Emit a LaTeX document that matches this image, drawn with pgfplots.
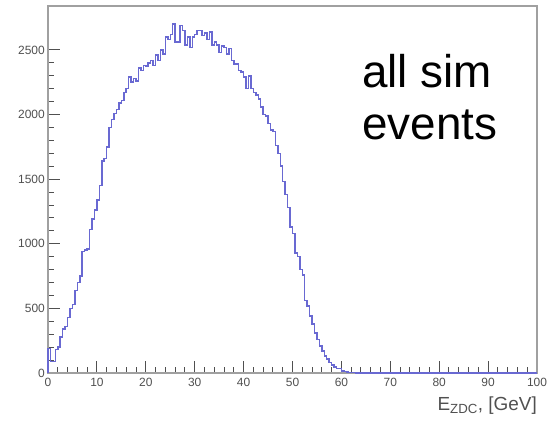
\documentclass[border=0pt]{standalone}
\usepackage{fontspec}
\setmainfont{Liberation Sans}
\usepackage{pgfplots}
\pgfplotsset{compat=1.18}
\usepackage{pgfplotstable}
\definecolor{histblue}{RGB}{105,105,210}
\definecolor{framegray}{RGB}{160,160,160}
\definecolor{ticklab}{RGB}{80,80,80}
\pgfplotstableread{
x y
0.0 0
0.0 190
0.5 90
1.0 90
1.5 180
2.0 200
2.5 280
3.0 340
3.5 360
4.0 430
4.5 500
5.0 530
5.5 640
6.0 700
6.5 750
7.0 940
7.5 950
8.0 960
8.5 1110
9.0 1190
9.5 1260
10.0 1340
10.5 1450
11.0 1640
11.5 1660
12.0 1750
12.5 1900
13.0 1960
13.5 2010
14.0 2040
14.5 2090
15.0 2110
15.5 2170
16.0 2200
16.5 2290
17.0 2250
17.5 2280
18.0 2260
18.5 2360
19.0 2340
19.5 2380
20.0 2370
20.5 2400
21.0 2420
21.5 2380
22.0 2460
22.5 2420
23.0 2500
23.5 2470
24.0 2600
24.5 2580
25.0 2620
25.5 2700
26.0 2560
26.5 2560
27.0 2690
27.5 2650
28.0 2540
28.5 2600
29.0 2520
29.5 2600
30.0 2620
30.5 2650
31.0 2650
31.5 2610
32.0 2630
32.5 2580
33.0 2640
33.5 2540
34.0 2560
34.5 2540
35.0 2480
35.5 2530
36.0 2520
36.5 2470
37.0 2510
37.5 2420
38.0 2390
38.5 2390
39.0 2340
39.5 2330
40.0 2290
40.5 2200
41.0 2300
41.5 2200
42.0 2170
42.5 2150
43.0 2120
43.5 2060
44.0 2000
44.5 1990
45.0 1930
45.5 1880
46.0 1870
46.5 1760
47.0 1700
47.5 1600
48.0 1480
48.5 1380
49.0 1280
49.5 1130
50.0 1080
50.5 930
51.0 900
51.5 800
52.0 760
52.5 560
53.0 520
53.5 440
54.0 380
54.5 310
55.0 260
55.5 210
56.0 170
56.5 130
57.0 110
57.5 80
58.0 60
58.5 45
59.0 35
59.5 35
60.0 15
60.5 10
61.0 8
61.5 5
62.0 3
62.5 2
63.0 1
63.5 1
64.0 0
100.0 0
}\histdata
\begin{document}
\begin{tikzpicture}
\path[use as bounding box] (-48bp,-48bp) rectangle (504bp,373bp);
\begin{axis}[
  at={(0,0)}, anchor=south west,
  scale only axis,
  width=489bp, height=367bp,
  xmin=0, xmax=100, ymin=0, ymax=2840,
  xtick={0,10,...,100}, ytick={0,500,...,2500},
  minor x tick num=4, minor y tick num=4,
  tick pos=left, tick align=inside,
  major tick length=12bp, minor tick length=6bp,
  every tick/.style={ticklab, line width=1bp},
  axis line style={framegray, line width=1.2bp},
  /pgf/number format/assume math mode=true,
  /pgf/number format/1000 sep={},
  tick label style={font=\fontsize{12}{13}\selectfont, text=ticklab},
  yticklabel style={anchor=east, inner sep=0pt, xshift=-3bp},
  xticklabel style={anchor=north, inner sep=0pt, yshift=-5bp},
  xlabel={E\textsubscript{ZDC}, [GeV]},
  xlabel style={at={(axis description cs:1,0)}, anchor=base east, inner sep=0pt,
    yshift=-37bp, font=\fontsize{19}{21}\selectfont, text=ticklab},
  clip=false,
]
\addplot[const plot mark left, histblue, line width=1.5bp] table[x=x, y=y] {\histdata};
\node[anchor=base west, inner sep=0pt, font=\fontsize{46}{52}\selectfont] at (axis description cs:0.642,0.7766) {all sim};
\node[anchor=base west, inner sep=0pt, font=\fontsize{46}{52}\selectfont] at (axis description cs:0.642,0.635) {events};
\end{axis}
\end{tikzpicture}
\end{document}
